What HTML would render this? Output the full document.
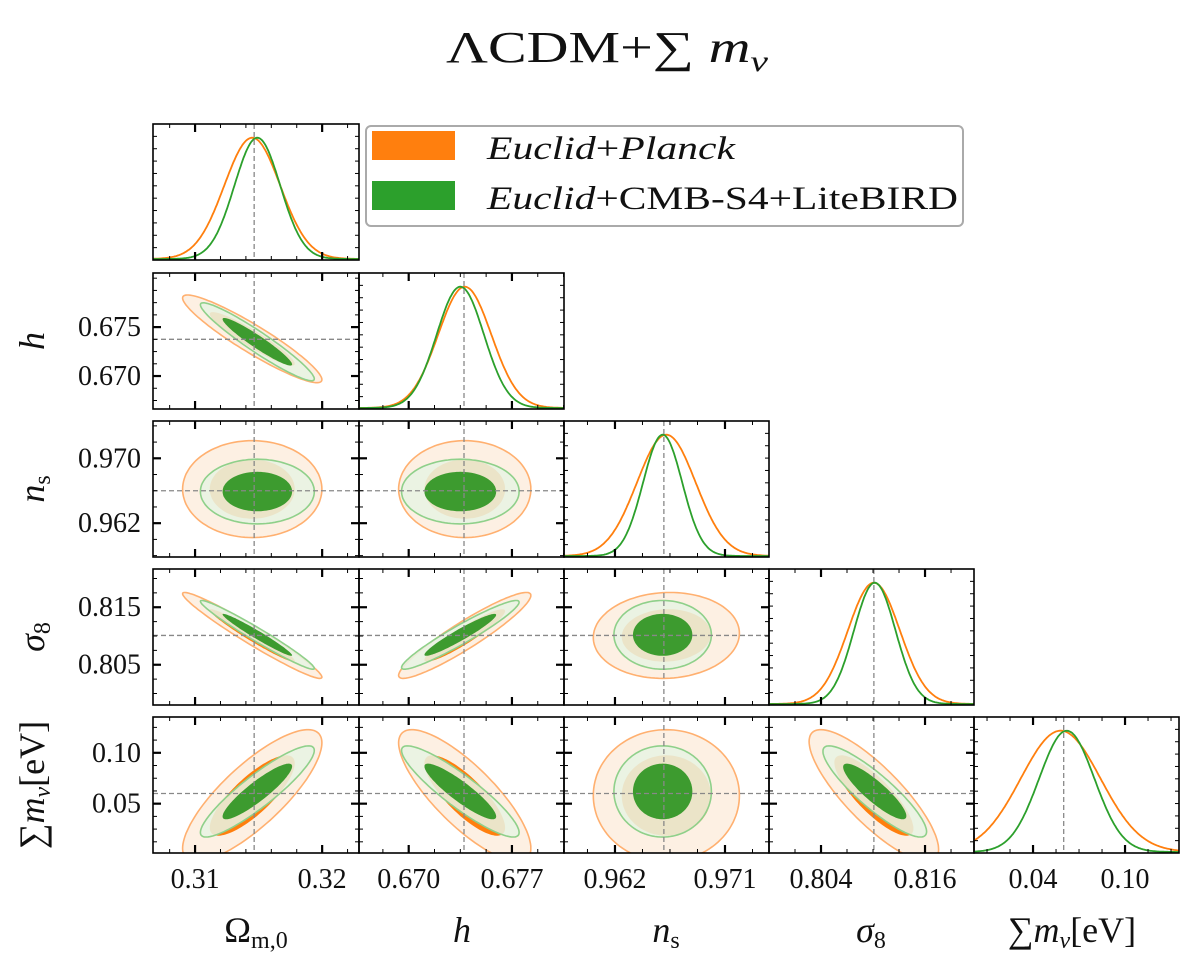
<!DOCTYPE html>
<html><head><meta charset="utf-8">
<style>
html,body{margin:0;padding:0;background:#fff;}
svg text{font-family:"Liberation Serif","DejaVu Serif",serif;fill:#111;}
</style></head>
<body>
<svg id="chart" width="1200" height="973" viewBox="0 0 1200 973" xmlns="http://www.w3.org/2000/svg">
<text x="446" y="62" font-size="44" textLength="322" lengthAdjust="spacingAndGlyphs">ΛCDM+∑ <tspan font-style="italic">m</tspan><tspan font-style="italic" font-size="30" dy="9">ν</tspan></text>
<g id="panels"></g>
<g>
<rect x="366" y="126" width="597" height="100" rx="5" fill="#fff" stroke="#aaa" stroke-width="2"/>
<rect x="372" y="131" width="83" height="29" fill="#ff7f0e"/>
<rect x="372" y="181" width="83" height="29" fill="#2ca02c"/>
<text x="487" y="159" font-size="33" textLength="248" lengthAdjust="spacingAndGlyphs"><tspan font-style="italic">Euclid</tspan>+<tspan font-style="italic">Planck</tspan></text>
<text x="487" y="209" font-size="33" textLength="471" lengthAdjust="spacingAndGlyphs"><tspan font-style="italic">Euclid</tspan>+CMB-S4+LiteBIRD</text>
</g>
<text transform="translate(44,341) rotate(-90)" font-size="36" font-style="italic" text-anchor="middle">h</text>
<text transform="translate(44,489) rotate(-90)" font-size="36" text-anchor="middle"><tspan font-style="italic">n</tspan><tspan font-size="24" dy="6">s</tspan></text>
<text transform="translate(44,637) rotate(-90)" font-size="36" text-anchor="middle"><tspan font-style="italic">σ</tspan><tspan font-size="24" dy="6">8</tspan></text>
<text transform="translate(44,785) rotate(-90)" font-size="36" text-anchor="middle">∑<tspan font-style="italic">m</tspan><tspan font-style="italic" font-size="24" dy="6">ν</tspan><tspan dy="-6">[eV]</tspan></text>
<text x="256" y="942" font-size="36" text-anchor="middle">Ω<tspan font-size="24" dy="6">m,0</tspan></text>
<text x="462" y="942" font-size="36" font-style="italic" text-anchor="middle">h</text>
<text x="666" y="942" font-size="36" text-anchor="middle"><tspan font-style="italic">n</tspan><tspan font-size="24" dy="6">s</tspan></text>
<text x="871" y="942" font-size="36" text-anchor="middle"><tspan font-style="italic">σ</tspan><tspan font-size="24" dy="6">8</tspan></text>
<text x="1072" y="942" font-size="36" text-anchor="middle">∑<tspan font-style="italic">m</tspan><tspan font-style="italic" font-size="24" dy="6">ν</tspan><tspan dy="-6">[eV]</tspan></text>
</svg>
<script>
// ---- data ----
const paramNames = ["omega_m0","h","n_s","sigma_8","sum_mnu"];
const fiducial = [0.31465, 0.67375, 0.9660, 0.8101, 0.0600];
const meanPlanck = [0.3145, 0.6738, 0.9662, 0.8101, 0.0580];
const meanS4 = [0.3149, 0.6735, 0.9659, 0.8102, 0.0620];
const sdPlanck = [0.0022, 0.0018, 0.0024, 0.0030, 0.0260];
const sdS4 = [0.0018, 0.0016, 0.0016, 0.0024, 0.0180];
const corrPlanck = [
 [1, -0.93, 0.0, -0.97, 0.80],
 [-0.93, 1, 0.0, 0.93, -0.80],
 [0.0, 0.0, 1, 0.05, 0.0],
 [-0.97, 0.93, 0.05, 1, -0.82],
 [0.80, -0.80, 0.0, -0.82, 1]];
const corrS4 = [
 [1, -0.95, 0.0, -0.975, 0.90],
 [-0.95, 1, 0.0, 0.95, -0.90],
 [0.0, 0.0, 1, 0.0, 0.0],
 [-0.975, 0.95, 0.0, 1, -0.88],
 [0.90, -0.90, 0.0, -0.88, 1]];
const axisMin = [0.30669, 0.66663, 0.95783, 0.7980, 0.0015];
const axisMax = [0.32290, 0.68053, 0.97460, 0.82165, 0.1352];
const xTickValues = [[0.31,0.32],[0.670,0.677],[0.962,0.971],[0.804,0.816],[0.04,0.10]];
const xTickLabels = [["0.31","0.32"],["0.670","0.677"],["0.962","0.971"],["0.804","0.816"],["0.04","0.10"]];
const xMinorStep = [0.002,0.00175,0.00225,0.003,0.015];
const yTickValues = [[],[0.670,0.675],[0.962,0.970],[0.805,0.815],[0.05,0.10]];
const yTickLabels = [[],["0.670","0.675"],["0.962","0.970"],["0.805","0.815"],["0.05","0.10"]];
const yMinorStep = [0,0.00125,0.002,0.0025,0.0125];

// ---- layout ----
const colX = [153,359,564,769,974,1179];
const rowTop = [124,273,421,569,717];
const rowH = 136;
const NS = "http://www.w3.org/2000/svg";
const root = document.getElementById('panels');
const ORANGE = "#ff7f0e", GREEN = "#2ca02c";
function mk(tag, attrs, parent){ const e=document.createElementNS(NS,tag); for(const k in attrs) e.setAttribute(k,attrs[k]); (parent||root).appendChild(e); return e; }
function sx(p, v, c){ return colX[c] + (v-axisMin[p])/(axisMax[p]-axisMin[p])*(colX[c+1]-colX[c]); }
function sy(p, v, r){ return rowTop[r] + rowH - (v-axisMin[p])/(axisMax[p]-axisMin[p])*rowH; }
function minorList(p, step, majors){
  const out=[]; const base=majors[0];
  for(let k=-40;k<=40;k++){ const v=base+k*step; if(v>axisMin[p]&&v<axisMax[p]) out.push(v); }
  return out;
}

for(let r=0;r<5;r++){
  for(let c=0;c<=r;c++){
    const x0=colX[c], x1=colX[c+1], y0=rowTop[r], y1=rowTop[r]+rowH;
    const g = mk('g',{});
    
    
    const cid='clip'+r+'_'+c;
    const cp = mk('clipPath',{id:cid},g);
    mk('rect',{x:x0,y:y0,width:x1-x0,height:rowH},cp);
    const plot = mk('g',{'clip-path':'url(#'+cid+')'},g);
    if(r===c){
      const sets=[[meanPlanck,sdPlanck,ORANGE,'planck'],[meanS4,sdS4,GREEN,'cmbs4']];
      for(const [m,s,col,nm] of sets){
        let d='';
        for(let i=0;i<=200;i++){
          const px=x0+i*(x1-x0)/200;
          const v=axisMin[c]+(px-x0)/(x1-x0)*(axisMax[c]-axisMin[c]);
          const gv=Math.exp(-0.5*Math.pow((v-m[c])/s[c],2));
          const py=y1-1-gv*(rowH-2)/1.105;
          d+=(i?'L':'M')+px.toFixed(1)+' '+py.toFixed(1);
        }
        const pth=mk('path',{d:d,fill:'none',stroke:col,'stroke-width':1.8},plot);
        
        
      }
      const fx=sx(c,fiducial[c],c);
      const fl=mk('line',{x1:fx,x2:fx,y1:y0,y2:y1,stroke:'#888','stroke-width':1.3,'stroke-dasharray':'5,3'},plot);
      
      
    } else {
      const px=c, py=r;
      function ell(m,s,rho,k){
        const cx=sx(px,m[px],c), cy=sy(py,m[py],r);
        const ax=s[px]/(axisMax[px]-axisMin[px])*(x1-x0);
        const ay=s[py]/(axisMax[py]-axisMin[py])*rowH;
        const q=Math.sqrt(Math.max(0,1-rho*rho));
        let d='';
        for(let i=0;i<=120;i++){
          const t=i/120*2*Math.PI;
          const X=cx+k*ax*Math.cos(t);
          const Y=cy-k*ay*(rho*Math.cos(t)+q*Math.sin(t));
          d+=(i?'L':'M')+X.toFixed(1)+' '+Y.toFixed(1);
        }
        return d+'Z';
      }
      const rp=corrPlanck[px][py], rs=corrS4[px][py];
      const layers=[
        [ell(meanPlanck,sdPlanck,rp,2.49),'#fdf0e3','#ffb070','contour95-planck'],
        [ell(meanPlanck,sdPlanck,rp,1.52),ORANGE,'none','contour68-planck'],
        [ell(meanS4,sdS4,rs,2.49),'rgba(232,242,226,0.88)','#8fd08a','contour95-cmbs4'],
        [ell(meanS4,sdS4,rs,1.52),'#3d9b2f','none','contour68-cmbs4']];
      for(const [d,f,st,nm] of layers){
        const e=mk('path',{d:d,fill:f,stroke:st,'stroke-width':1.6},plot);
        
        
      }
      const fx=sx(px,fiducial[px],c), fy=sy(py,fiducial[py],r);
      const vl=mk('line',{x1:fx,x2:fx,y1:y0,y2:y1,stroke:'#888','stroke-width':1.3,'stroke-dasharray':'5,3'},plot);
      
      
      const hl=mk('line',{x1:x0,x2:x1,y1:fy,y2:fy,stroke:'#888','stroke-width':1.3,'stroke-dasharray':'5,3'},plot);
      
      
    }
    const tg=mk('g',{stroke:'#000'},g);
    
    
    for(const v of minorList(c,xMinorStep[c],xTickValues[c])){
      const X=sx(c,v,c);
      mk('line',{x1:X,x2:X,y1:y1,y2:y1-4,'stroke-width':1},tg);
      mk('line',{x1:X,x2:X,y1:y0,y2:y0+4,'stroke-width':1},tg);
    }
    for(const v of xTickValues[c]){
      const X=sx(c,v,c);
      mk('line',{x1:X,x2:X,y1:y1,y2:y1-8,'stroke-width':2.2},tg);
      mk('line',{x1:X,x2:X,y1:y0,y2:y0+8,'stroke-width':2.2},tg);
    }
    if(r!==c){
      for(const v of minorList(r,yMinorStep[r],yTickValues[r])){
        const Y=sy(r,v,r);
        mk('line',{x1:x0,x2:x0+4,y1:Y,y2:Y,'stroke-width':1},tg);
        mk('line',{x1:x1,x2:x1-4,y1:Y,y2:Y,'stroke-width':1},tg);
      }
      for(const v of yTickValues[r]){
        const Y=sy(r,v,r);
        mk('line',{x1:x0,x2:x0+8,y1:Y,y2:Y,'stroke-width':2.2},tg);
        mk('line',{x1:x1,x2:x1-8,y1:Y,y2:Y,'stroke-width':2.2},tg);
      }
    } else {
      for(let k=1;k<11;k++){
        const Y=y1-k*(rowH/11);
        mk('line',{x1:x0,x2:x0+4,y1:Y,y2:Y,'stroke-width':1},tg);
        mk('line',{x1:x1,x2:x1-4,y1:Y,y2:Y,'stroke-width':1},tg);
      }
    }
    const fr=mk('rect',{x:x0,y:y0,width:x1-x0,height:rowH,fill:'none',stroke:'#000','stroke-width':1.6},g);
    
    
    if(r===4){
      xTickValues[c].forEach((v,i)=>{
        const t=mk('text',{x:sx(c,v,c),y:888,'font-size':28,'text-anchor':'middle'},g);
        t.textContent=xTickLabels[c][i];
        
        
      });
    }
    if(c===0 && r>0){
      yTickValues[r].forEach((v,i)=>{
        const t=mk('text',{x:141,y:sy(r,v,r)+9,'font-size':28,'text-anchor':'end'},g);
        t.textContent=yTickLabels[r][i];
        
        
      });
    }
  }
}
</script>
</body></html>
